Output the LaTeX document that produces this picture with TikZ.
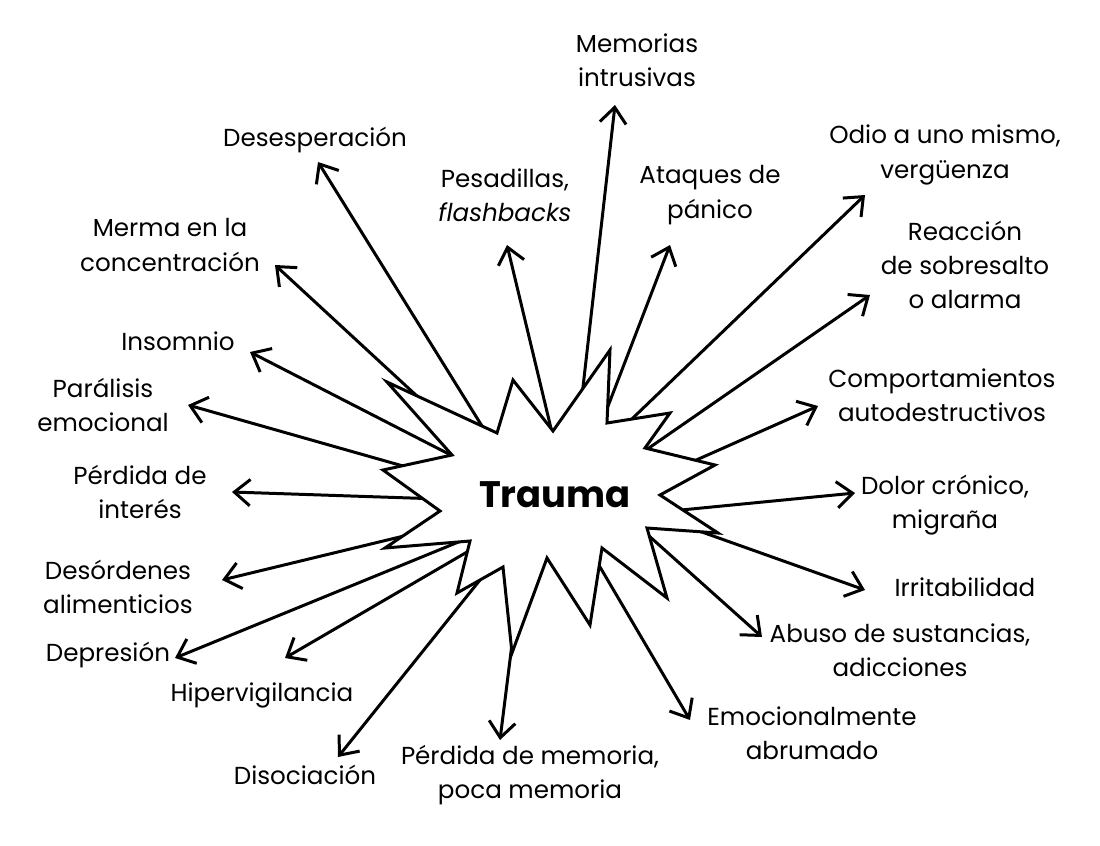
\documentclass[tikz,border=0pt]{standalone}
\usepackage{fontspec}
\setmainfont{Poppins}
\usetikzlibrary{arrows.meta}
\begin{document}
\begin{tikzpicture}[x=0.02cm,y=-0.02cm,
  arr/.style={line width=1.7pt,-{Straight Barb[length=9pt,width=15pt,line width=1.7pt]}},
  lab/.style={align=center,font=\fontsize{14}{19.5}\selectfont,inner sep=0pt}]
\useasboundingbox (0,0) rectangle (1100,846);
\foreach \n/\sx/\sy/\ex/\ey in {
 a/577/440/615/105, b/555/445/507/245, c/595/440/670/245, d/500/455/318/162,
 e/610/440/865/195, f/620/468/870/295, g/470/445/275/265, h/480/470/250/352,
 i/470/485/188/405, j/640/485/818/406, k/470/500/232/492, l/630/515/855/493,
 m/470/520/222/580, n/640/510/865/590, o/500/525/175/658, p/620/510/762/637,
 q/510/527/285/658, r/500/555/338/757, s/520/580/500/740, t/590/550/690/720}{
  \coordinate (s\n) at (\sx,\sy);
  \coordinate (e\n) at (\ex,\ey);
  \draw[arr] (s\n) -- (e\n);
}
\draw[line width=1.7pt,fill=white,line join=miter] (553,431)--(610,350)--(607,423)--(670,413)--(645,448)--(715,465)--(660,495)--(718,533)--(647,528)--(667,598)--(602,548)--(590,625)--(547,558)--(512,653)--(503,567)--(457,593)--(470,541)--(385,548)--(440,511)--(383,470)--(452,455)--(387,382)--(497,433)--(513,380)--cycle;
\node[font=\fontsize{21}{26}\selectfont\bfseries] (trauma) at (555,495) {Trauma};
\node[lab] (la) at (637,60) {Memorias\\intrusivas};
\node[lab] (lb) at (505,195) {Pesadillas,\\\textit{flashbacks}};
\node[lab] (lc) at (710,195) {Ataques de\\pánico};
\node[lab] (ld) at (315,140) {Desesperación};
\node[lab] (le) at (945,155) {Odio a uno mismo,\\vergüenza};
\node[lab] (lf) at (965,265) {Reacción\\de sobresalto\\o alarma};
\node[lab] (lg) at (170,245) {Merma en la\\concentración};
\node[lab] (lh) at (178,341) {Insomnio};
\node[lab] (li) at (103,405) {Parálisis\\emocional};
\node[lab] (lj) at (942,395) {Comportamientos\\autodestructivos};
\node[lab] (lk) at (140,492) {Pérdida de\\interés};
\node[lab] (ll) at (945,505) {Dolor crónico,\\migraña};
\node[lab] (lm) at (118,587) {Desórdenes\\alimenticios};
\node[lab] (ln) at (965,587) {Irritabilidad};
\node[lab] (lo) at (108,655) {Depresión};
\node[lab] (lp) at (900,650) {Abuso de sustancias,\\adicciones};
\node[lab] (lq) at (262,695) {Hipervigilancia};
\node[lab] (lr) at (305,775) {Disociación};
\node[lab] (ls) at (530,775) {Pérdida de memoria,\\poca memoria};
\node[lab] (lt) at (812,733) {Emocionalmente\\abrumado};
\end{tikzpicture}
\end{document}
